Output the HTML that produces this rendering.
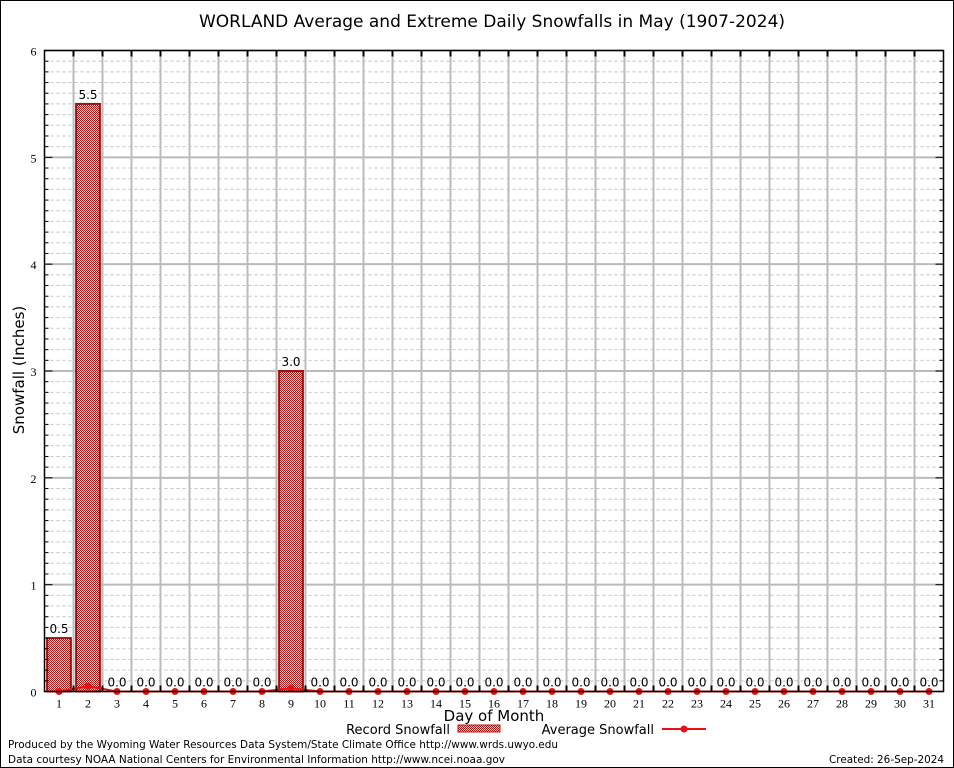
<!DOCTYPE html>
<html><head><meta charset="utf-8"><style>
body{margin:0;background:#fff}
svg{display:block;font-family:"DejaVu Sans","Liberation Sans",sans-serif}
</style></head><body>
<svg id="chart" width="954" height="768">
<defs>
<pattern id="hatch" width="2" height="2" patternUnits="userSpaceOnUse">
<rect width="2" height="2" fill="#f4d0d0"/><rect width="1" height="1" fill="#b01818"/><rect x="1" y="1" width="1" height="1" fill="#b01818"/>
</pattern>
</defs>
<rect x="0.5" y="0.5" width="953" height="767" fill="#fff" stroke="#000"/>
<text x="492" y="27" font-size="17" text-anchor="middle">WORLAND Average and Extreme Daily Snowfalls in May (1907-2024)</text>
<g id="grid"></g>
<g id="bars"></g>
<g id="avg"></g>
<g id="axes"></g>
<text transform="translate(24,370) rotate(-90)" font-size="15" text-anchor="middle">Snowfall (Inches)</text>
<text x="494" y="721" font-size="15" text-anchor="middle">Day of Month</text>
<g>
<text x="450" y="734" font-size="13" text-anchor="end">Record Snowfall</text>
<rect x="458" y="725" width="42" height="7" fill="url(#hatch)" stroke="#b01818"/>
</g>
<g>
<text x="654" y="734" font-size="13" text-anchor="end">Average Snowfall</text>
<line x1="662" y1="729" x2="706" y2="729" stroke="#e81010" stroke-width="2"/>
<circle cx="684" cy="729" r="3.5" fill="#e81010"/>
</g>
<text x="8" y="748" font-size="11" textLength="550" lengthAdjust="spacingAndGlyphs">Produced by the Wyoming Water Resources Data System/State Climate Office http://www.wrds.uwyo.edu</text>
<text x="8" y="763" font-size="11" textLength="497" lengthAdjust="spacingAndGlyphs">Data courtesy NOAA National Centers for Environmental Information http://www.ncei.noaa.gov</text>
<text x="944" y="763" font-size="11" text-anchor="end" textLength="115" lengthAdjust="spacingAndGlyphs">Created: 26-Sep-2024</text>
</svg>
<script>
const days=[1,2,3,4,5,6,7,8,9,10,11,12,13,14,15,16,17,18,19,20,21,22,23,24,25,26,27,28,29,30,31];
const recordSnow=[0.5,5.5,0,0,0,0,0,0,3.0,0,0,0,0,0,0,0,0,0,0,0,0,0,0,0,0,0,0,0,0,0,0];
const avgSnow=[0.0,0.05,0,0,0,0,0,0,0.03,0,0,0,0,0,0,0,0,0,0,0,0,0,0,0,0,0,0,0,0,0,0];
const yTicks=[0,1,2,3,4,5,6];
const NS="http://www.w3.org/2000/svg";
const L=44.5,R=943.5,T=50.5,B=691.5;
const x=d=>L+(d-0.5)*(R-L)/31;
const y=v=>B-v*(B-T)/6;
function mk(tag,attrs,parent){const e=document.createElementNS(NS,tag);for(const k in attrs)e.setAttribute(k,attrs[k]);parent.appendChild(e);return e;}
const grid=document.getElementById('grid'),bars=document.getElementById('bars'),avg=document.getElementById('avg'),axes=document.getElementById('axes');
for(let i=1;i<60;i++){if(i%10===0)continue;const g=mk('line',{x1:L,x2:R,y1:y(i/10),y2:y(i/10),stroke:'#c4c4c4','stroke-dasharray':'3,3','stroke-width':1},grid);


mk('line',{x1:L,x2:L+4,y1:y(i/10),y2:y(i/10),stroke:'#000'},axes);mk('line',{x1:R-4,x2:R,y1:y(i/10),y2:y(i/10),stroke:'#000'},axes);}
yTicks.forEach(t=>{const g=mk('line',{x1:L,x2:R,y1:y(t),y2:y(t),stroke:'#bbb','stroke-width':2},grid);


mk('line',{x1:L,x2:L+8,y1:y(t),y2:y(t),stroke:'#000'},axes);mk('line',{x1:R-8,x2:R,y1:y(t),y2:y(t),stroke:'#000'},axes);
const tx=mk('text',{x:L-8,y:y(t)+5,'font-size':12,'text-anchor':'end','font-family':'Liberation Serif,serif'},axes);tx.textContent=t;

});
for(let d=1;d<31;d++){const g=mk('line',{x1:x(d+0.5),x2:x(d+0.5),y1:T,y2:B,stroke:'#bbb','stroke-width':2},grid);


mk('line',{x1:x(d+0.5),x2:x(d+0.5),y1:T,y2:T+6,stroke:'#000','stroke-width':2},axes);mk('line',{x1:x(d+0.5),x2:x(d+0.5),y1:B-6,y2:B,stroke:'#000','stroke-width':2},axes);}
mk('rect',{x:L,y:T,width:R-L,height:B-T,fill:'none',stroke:'#000','stroke-width':1.5},axes);
days.forEach((d,i)=>{const v=recordSnow[i];const w=(R-L)/31*0.82;
if(v>0){const r=mk('rect',{x:x(d)-w/2,y:y(v),width:w,height:y(0)-y(v),fill:'url(#hatch)',stroke:'#a01010','stroke-width':2},bars);

}
const lb=mk('text',{x:x(d),y:y(v)-5,'font-size':12,'text-anchor':'middle'},bars);lb.textContent=v.toFixed(1);


const xl=mk('text',{x:x(d),y:B+16,'font-size':12,'text-anchor':'middle','font-family':'Liberation Serif,serif'},axes);xl.textContent=d;

});
const pl=mk('polyline',{points:days.map((d,i)=>x(d)+','+y(avgSnow[i])).join(' '),fill:'none',stroke:'#e81010','stroke-width':2},avg);


days.forEach((d,i)=>{const c=mk('circle',{cx:x(d),cy:y(avgSnow[i]),r:3.5,fill:'#e81010'},avg);

});
</script>
</body></html>
